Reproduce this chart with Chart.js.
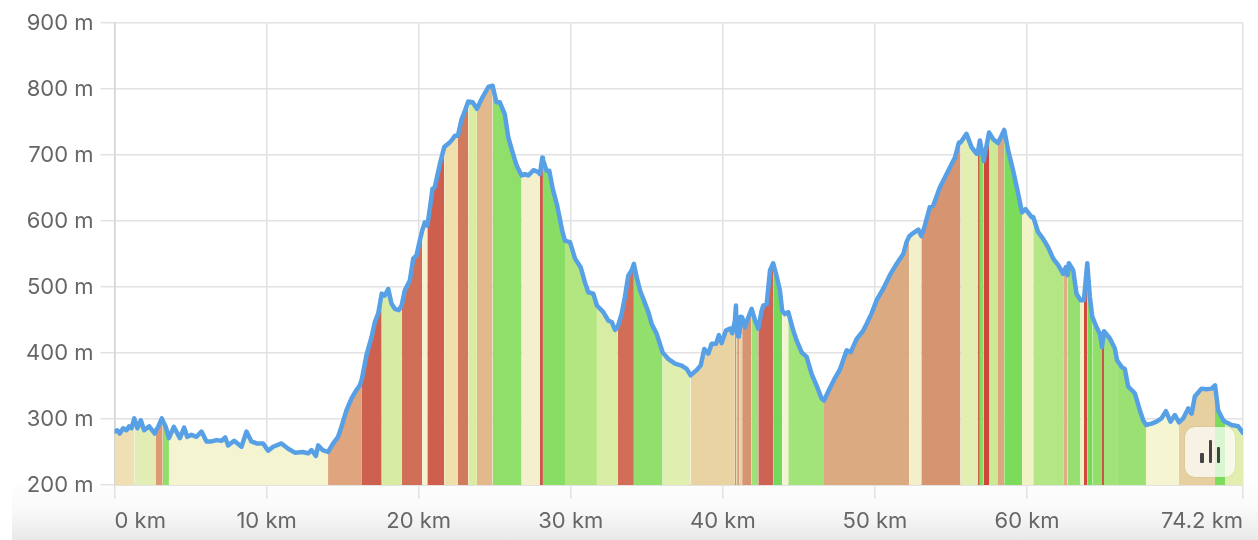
<!DOCTYPE html>
<html>
<head>
<meta charset="utf-8">
<style>
  html, body { margin: 0; padding: 0; background: #fff; }
  #wrap { position: relative; width: 1258px; height: 540px; overflow: hidden; }
  #footer { position: absolute; left: 12px; right: 0; top: 486px; bottom: 0;
    background: linear-gradient(#fdfdfd, #fafafa 40%, #e9e9e9); }
  #plot { position: absolute; left: 0; top: 0; filter: blur(0.4px); }
  #statsButton { position: absolute; left: 1185px; top: 427px; width: 50px; height: 50px;
    border-radius: 10px; background: rgba(255,255,255,0.72); box-shadow: 0 0 2px rgba(0,0,0,0.12);
    filter: blur(0.3px); }
  #statsButton i { position: absolute; bottom: 14px; width: 3.5px; background: #444; border-radius: 1px; }
</style>
</head>
<body>
<div id="wrap">
  <div id="footer"></div>
  <canvas id="plot" width="1258" height="540"></canvas>
  <div id="statsButton">
    <i style="left:15px;height:10px"></i>
    <i style="left:23.5px;height:23px"></i>
    <i style="left:31.5px;height:16px"></i>
  </div>
</div>
<script src="https://cdn.jsdelivr.net/npm/chart.js@4"></script>
<script>
// distance along the route, km
const distanceKm = [
  0, 0.18, 0.35, 0.57, 0.79, 0.96, 1.12, 1.3, 1.51, 1.73, 1.95, 2.28, 2.65, 2.73, 2.87, 3.11, 3.17, 3.37, 3.58,
  3.9, 4.3, 4.58, 4.78, 5.06, 5.39, 5.72, 6.05, 6.38, 6.71, 7.04, 7.28, 7.47, 7.87, 8.35, 8.68, 9.0, 9.34, 9.77,
  10.1, 10.43, 10.98, 11.42, 11.86, 12.4, 12.73, 12.95, 13.24, 13.39, 13.68, 14.04, 14.38, 14.7, 14.92, 15.25,
  15.58, 15.91, 16.13, 16.27, 16.57, 16.9, 17.12, 17.34, 17.57, 17.77, 18.0, 18.21, 18.43, 18.69, 18.88, 19.09,
  19.42, 19.64, 19.86, 20.07, 20.24, 20.4, 20.57, 20.73, 20.91, 21.06, 21.39, 21.68, 21.94, 22.16, 22.38, 22.58,
  22.82, 23.04, 23.26, 23.55, 23.83, 24.14, 24.58, 24.86, 25.11, 25.33, 25.66, 25.89, 26.11, 26.44, 26.77, 26.99,
  27.21, 27.54, 27.87, 27.97, 28.13, 28.17, 28.41, 28.59, 28.81, 29.11, 29.46, 29.62, 29.95, 30.28, 30.65, 30.93,
  31.15, 31.48, 31.72, 32.14, 32.47, 32.69, 32.91, 33.08, 33.34, 33.56, 33.78, 34.0, 34.15, 34.33, 34.55, 34.77,
  35.1, 35.32, 35.65, 35.97, 36.04, 36.41, 36.85, 37.29, 37.62, 37.88, 38.27, 38.54, 38.78, 39.04, 39.26, 39.55,
  39.74, 39.92, 40.2, 40.47, 40.62, 40.79, 40.86, 40.9, 40.95, 41.0, 41.06, 41.1, 41.16, 41.27, 41.45, 41.56,
  41.89, 42.11, 42.33, 42.55, 42.66, 42.88, 43.1, 43.31, 43.53, 43.75, 43.9, 44.08, 44.3, 44.63, 44.85, 45.18,
  45.51, 45.84, 46.16, 46.49, 46.65, 47.04, 47.37, 47.7, 48.14, 48.4, 48.79, 49.23, 49.45, 49.78, 50.11, 50.54,
  50.98, 51.42, 51.86, 52.08, 52.26, 52.47, 52.85, 53.05, 53.28, 53.61, 53.83, 54.27, 54.49, 54.82, 55.26, 55.52,
  55.63, 56.02, 56.35, 56.68, 56.75, 56.9, 57.15, 57.5, 57.78, 58.09, 58.5, 58.76, 59.09, 59.42, 59.67, 59.9,
  60.3, 60.41, 60.73, 61.06, 61.39, 61.72, 62.05, 62.38, 62.55, 62.67, 62.75, 63.04, 63.25, 63.52, 63.74, 63.96,
  64.13, 64.29, 64.57, 64.79, 64.93, 65.06, 65.45, 65.77, 65.92, 66.21, 66.43, 66.65, 67.09, 67.42, 67.64, 67.82,
  68.19, 68.51, 68.84, 69.13, 69.43, 69.72, 69.99, 70.27, 70.6, 70.82, 71.03, 71.47, 71.8, 72.13, 72.36, 72.57,
  72.9, 73.02, 73.45, 73.88, 74.2
];

// elevation at each of those distances, m
const elevationM = [
  281, 283, 278, 286, 283, 289, 286, 301, 286, 298, 283, 289, 278, 283, 288, 301, 298, 288, 271,
  288, 271, 287, 273, 276, 273, 281, 266, 266, 268, 267, 272, 260, 267, 258, 281, 266, 263, 263,
  252, 258, 263, 255, 249, 250, 248, 253, 244, 260, 253, 250, 263, 273, 288, 313,
  331, 344, 351, 361, 397, 424, 447, 460, 490, 487, 497, 475, 467, 465, 472, 495,
  510, 543, 548, 570, 586, 598, 593, 618, 649, 651, 686, 712, 717, 722, 729, 729,
  754, 767, 781, 780, 770, 785, 803, 805, 780, 780, 762, 727, 709, 684, 669, 671,
  669, 677, 674, 671, 696, 693, 676, 676, 649, 623, 583, 570, 568, 543, 530, 507,
  492, 490, 472, 462, 449, 447, 435, 439, 459, 485, 517, 525, 535, 515, 495, 482,
  462, 444, 429, 406, 401, 391, 384, 381, 376, 366, 374, 381, 406, 399, 414, 414,
  427, 415, 434, 437, 430, 449, 472, 434, 452, 425, 448, 430, 455, 454, 439, 447,
  467, 450, 437, 464, 472, 474, 525, 536, 517, 495, 464, 459, 462, 434, 419, 401,
  394, 368, 351, 331, 328, 347, 362, 375, 404, 401, 421, 434, 444, 460, 480, 497,
  518, 535, 550, 568, 577, 581, 587, 577, 593, 621, 623, 651, 661, 676, 696, 719,
  719, 732, 712, 702, 702, 722, 691, 734, 724, 718, 738, 707, 676, 641, 613, 618,
  606, 606, 583, 573, 560, 543, 533, 520, 530, 518, 536, 525, 490, 480, 480, 536,
  485, 455, 439, 429, 409, 433, 422, 407, 389, 379, 376, 349, 339, 313, 298, 291,
  293, 296, 301, 312, 296, 306, 295, 301, 316, 308, 334, 346, 345, 346, 351, 313,
  298, 296, 291, 289, 279
];

// gradient bands: each one starts at bandStartKm[i]
const bandStartKm = [
  0, 1.3, 2.73, 3.17, 3.58, 14.04, 16.27, 17.57, 18.88, 20.24, 20.57, 21.68, 22.58, 23.26, 23.83, 24.86,
  26.77, 27.97, 28.17, 29.62, 31.72, 33.08, 34.15, 36.04, 37.88, 40.79, 40.9, 41.0, 41.1, 41.27, 41.89, 42.33,
  43.31, 43.9, 44.3, 46.65, 52.26, 53.05, 55.63, 56.75, 56.9, 57.15, 57.5, 58.09, 58.5, 59.67, 60.41, 62.38,
  62.67, 63.52, 63.74, 63.96, 64.29, 64.93, 65.06, 65.92, 67.82, 69.99, 72.36, 73.02
];
const bandColors = [
  "#efdfb2", "#e2ecb5", "#dd9a72", "#8fdf6b", "#f4f5d0", "#dea57e", "#ce604f", "#d7eca2", "#d06e58", "#f6f3cf", "#ce5f4f", "#efdfad", "#d27a5e", "#dbeba2", "#e3b88c", "#90df6a",
  "#f4efcc", "#c9574a", "#88de65", "#b3e681", "#d8eca4", "#d26d58", "#93df6e", "#e0eeb0", "#e9d3a2", "#d78e68", "#93df6e", "#d78e68", "#e9d3a2", "#d59570", "#a0e078", "#cc6353",
  "#74d95a", "#f5f4d2", "#a2e37a", "#dcaa80", "#f4efcb", "#d69570", "#e2eeb2", "#d0604f", "#85dc60", "#d2453d", "#cce996", "#dea57e", "#7adc5a", "#f1f3c6", "#b4e685", "#e3ab88",
  "#96df70", "#f0f2c5", "#d2483f", "#74da58", "#93df6c", "#cc5045", "#a3e27b", "#9ae072", "#f5f5d2", "#e6d0a0", "#7cdc5c", "#e2eeb0"
];

const xTicks = [0, 10, 20, 30, 40, 50, 60, 74.2];
const yMin = 200;
const yMax = 900;

const LINE_COLOR = "#58a0e6";
const GRID_COLOR = "#e2e2e2";
const TEXT_COLOR = "#666";
const FONT = { family: "Inter, sans-serif", size: 22 };

const points = distanceKm.map((km, i) => ({ x: km, y: elevationM[i] }));

function bandColorAt(km) {
  let idx = 0;
  for (let i = 0; i < bandStartKm.length; i++) {
    if (km >= bandStartKm[i]) idx = i;
  }
  return bandColors[idx];
}

new Chart(document.getElementById("plot"), {
  type: "line",
  data: {
    datasets: [
      {
        // coloured bands under the profile, drawn first
        order: 2,
        data: points,
        borderWidth: 0,
        borderColor: "transparent",
        pointRadius: 0,
        fill: "start",
        segment: {
          backgroundColor: (ctx) => bandColorAt((ctx.p0.parsed.x + ctx.p1.parsed.x) / 2),
        },
      },
      {
        order: 1,
        data: points,
        borderColor: LINE_COLOR,
        borderWidth: 4.5,
        borderJoinStyle: "round",
        borderCapStyle: "round",
        pointRadius: 0,
        fill: false,
        tension: 0,
      },
    ],
  },
  options: {
    responsive: false,
    animation: false,
    layout: { padding: { top: 23, right: 15, left: 0, bottom: 0 } },
    plugins: { legend: { display: false }, tooltip: { enabled: false } },
    scales: {
      x: {
        type: "linear",
        min: 0,
        max: 74.2,
        afterBuildTicks: (scale) => {
          scale.ticks = xTicks.map((v) => ({ value: v }));
        },
        afterFit: (scale) => {
          scale.height = 55;
          scale.paddingLeft = 0;
          scale.paddingRight = 0;
        },
        grid: { color: GRID_COLOR, tickLength: 14, lineWidth: 1.5 },
        border: { color: GRID_COLOR },
        ticks: {
          align: "inner",
          autoSkip: false,
          maxRotation: 0,
          padding: 9,
          color: TEXT_COLOR,
          font: FONT,
          callback: (v) => `${v} km`,
        },
      },
      y: {
        min: yMin,
        max: yMax,
        afterFit: (scale) => {
          scale.width = 114.5;
        },
        grid: { color: GRID_COLOR, tickLength: 14, lineWidth: 1.5 },
        border: { color: "#d4d4d4", width: 1.5 },
        ticks: {
          stepSize: 100,
          padding: 7,
          color: TEXT_COLOR,
          font: FONT,
          callback: (v) => `${v} m`,
        },
      },
    },
  },
});
</script>
</body>
</html>
